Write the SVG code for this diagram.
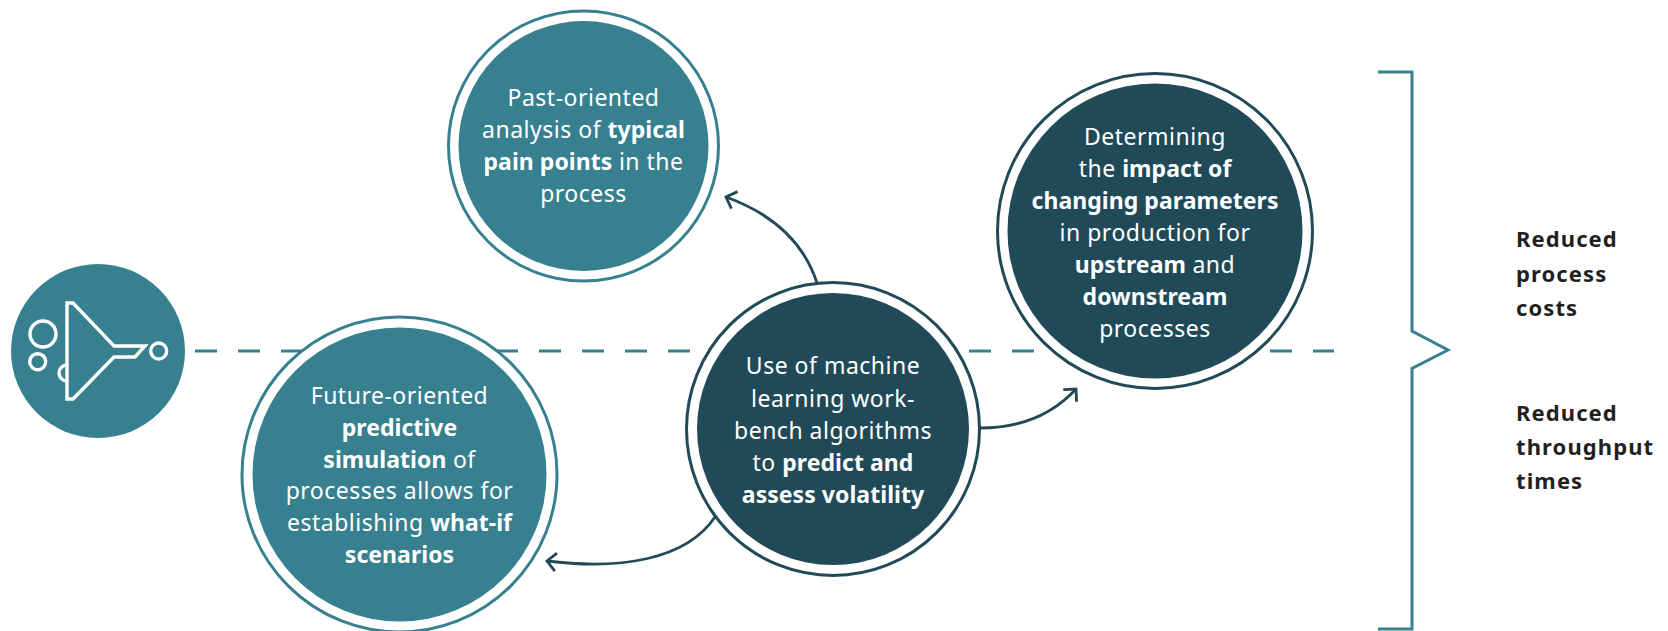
<svg xmlns="http://www.w3.org/2000/svg" width="1668" height="631" viewBox="0 0 1668 631">
<style>
text{font-family:"Noto Sans","Open Sans",sans-serif}
.t{font-size:23px;fill:#fff;text-anchor:middle;letter-spacing:.5px}
.t tspan.b{font-weight:700;letter-spacing:.05px}
.r{font-weight:700;font-size:22px;fill:#231f20;letter-spacing:1.1px}
.ring{fill:#fff;stroke-width:3}
.teal{stroke:#37808f}.dark{stroke:#214a58}
.ft{fill:#37808f}.fd{fill:#214a58}
.arr{fill:none;stroke:#214a58;stroke-width:2.8}
.ic{fill:none;stroke:#fff;stroke-width:3.4}
</style>
<defs>
<marker id="head" markerUnits="userSpaceOnUse" markerWidth="24" markerHeight="24" refX="15" refY="12" orient="auto"><path d="M6 3L15 12L6 21" fill="none" stroke="#214a58" stroke-width="2.800"/></marker>
</defs>
<g id="connectors">
<line x1="195" y1="351" x2="1334" y2="351" stroke="#37808f" stroke-width="2.800" stroke-dasharray="22 21"/>
<path class="arr" marker-end="url(#head)" d="M817 283C803 240 770 213 726 197"/>
<path class="arr" marker-end="url(#head)" d="M715 517C686 560 620 570 547 561"/>
<path class="arr" marker-end="url(#head)" d="M980 428C1020 428 1053 414 1076 389"/>
<path fill="none" stroke="#37808f" stroke-width="3" d="M1378 72H1412V331L1448 350L1412 368.500V629H1378"/>
</g>
<g id="source">
<circle class="ft" cx="98" cy="351" r="87"/>
<path class="ic" d="M67 303H73L114 346H145L135 357H114L73 399H67Z"/>
<circle class="ic" cx="43" cy="334" r="13"/>
<circle class="ic" cx="37.700" cy="361.700" r="8"/>
<circle class="ic" cx="158.700" cy="351" r="8"/>
<path class="ic" d="M67 365A8 8 0 0 0 67 381"/>
</g>
<g id="past">
<circle class="ring teal" cx="583.500" cy="146" r="135"/>
<circle class="ft" cx="583.500" cy="146" r="125"/>
<text class="t"><tspan x="583.500" y="106">Past-oriented</tspan><tspan x="583.500" y="138">analysis of <tspan class="b">typical</tspan></tspan><tspan x="583.500" y="170"><tspan class="b">pain points</tspan> in the</tspan><tspan x="583.500" y="202">process</tspan></text>
</g>
<g id="future">
<circle class="ring teal" cx="399.500" cy="474.500" r="157.500"/>
<circle class="ft" cx="399.500" cy="474.500" r="147"/>
<text class="t"><tspan x="399.500" y="404">Future-oriented</tspan><tspan x="399.500" y="436" class="b">predictive</tspan><tspan x="399.500" y="468"><tspan class="b">simulation</tspan> of</tspan><tspan x="399.500" y="499">processes allows for</tspan><tspan x="399.500" y="531">establishing <tspan class="b">what-if</tspan></tspan><tspan x="399.500" y="563" class="b">scenarios</tspan></text>
</g>
<g id="ml">
<circle class="ring dark" cx="833" cy="429" r="146.500"/>
<circle class="fd" cx="833" cy="429" r="136"/>
<text class="t"><tspan x="833" y="374">Use of machine</tspan><tspan x="833" y="406.500">learning work-</tspan><tspan x="833" y="439">bench algorithms</tspan><tspan x="833" y="471">to <tspan class="b">predict and</tspan></tspan><tspan x="833" y="503" class="b">assess volatility</tspan></text>
</g>
<g id="impact">
<circle class="ring dark" cx="1155" cy="231" r="157.500"/>
<circle class="fd" cx="1155" cy="231" r="147.500"/>
<text class="t"><tspan x="1155" y="145">Determining</tspan><tspan x="1155" y="177">the <tspan class="b">impact of</tspan></tspan><tspan x="1155" y="209" class="b">changing parameters</tspan><tspan x="1155" y="241">in production for</tspan><tspan x="1155" y="273"><tspan class="b">upstream</tspan> and</tspan><tspan x="1155" y="305" class="b">downstream</tspan><tspan x="1155" y="337">processes</tspan></text>
</g>
<g id="outcomes">
<text class="r"><tspan x="1516" y="247">Reduced</tspan><tspan x="1516" y="282">process</tspan><tspan x="1516" y="316">costs</tspan></text>
<text class="r"><tspan x="1516" y="421">Reduced</tspan><tspan x="1516" y="455">throughput</tspan><tspan x="1516" y="489">times</tspan></text>
</g>
</svg>
